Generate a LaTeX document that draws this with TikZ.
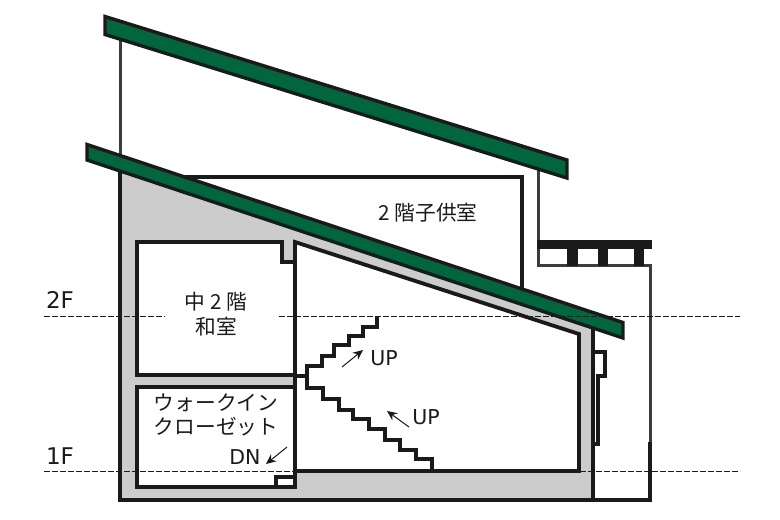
\documentclass[tikz,border=0pt]{standalone}
\usepackage{fontspec}
\setmainfont{DejaVu Sans}
\newfontfamily\jpfont{Noto Sans CJK JP}
\usetikzlibrary{arrows.meta}
\definecolor{roofgreen}{RGB}{0,102,61}
\definecolor{wallgray}{RGB}{204,204,204}
\definecolor{ink}{RGB}{26,26,26}
\tikzset{
  wall/.style={draw=ink,line width=3.8pt,line join=miter},
  thinwall/.style={draw=ink!85!white,line width=3pt},
  roof/.style={draw=ink,fill=roofgreen,line width=3.4pt,line join=miter},
  level/.style={draw=ink,line width=0.7pt,dash pattern=on 6pt off 2pt},
  flow/.style={draw=ink,line width=1pt,-{Stealth[length=10pt,width=9pt]}},
  lat/.style={inner sep=0pt,text=ink,font=\fontsize{20.5}{24}\selectfont},
  big/.style={inner sep=0pt,text=ink,font=\fontsize{23}{27}\selectfont},
  jp/.style={inner sep=0pt,text=ink,align=center,font=\jpfont\fontsize{20.7}{24.5}\selectfont},
}
\begin{document}
\begin{tikzpicture}[x=1pt,y=-1pt]
\useasboundingbox (0,0) rectangle (780,520);
% upper walls
\draw[thinwall] (120,30) -- (120,172);
\draw[thinwall] (538,170) -- (538,265) -- (650,265) -- (650,442);
\draw[wall] (650,442) -- (650,500) -- (593,500);
\draw[wall] (170,177) -- (522,177) -- (522,292);
% balcony
\fill[ink] (536.5,240) rectangle (652,249);
\fill[ink] (567,249) rectangle (578,266);
\fill[ink] (598,249) rectangle (608,266);
\fill[ink] (634,249) rectangle (644,266);
% body
\draw[wall,fill=wallgray] (120,165) -- (593,325) -- (593,500) -- (120,500) -- cycle;
% stair room
\draw[wall,fill=white] (295,242) -- (579,334) -- (579,471) -- (295,471) -- cycle;
% mid room
\draw[wall,fill=white] (137,242) -- (282,242) -- (282,262) -- (295,262) -- (295,375) -- (137,375) -- cycle;
% closet
\draw[wall,fill=white] (137,387) -- (295,387) -- (295,487) -- (137,487) -- cycle;
\draw[wall] (276,487) -- (276,477) -- (295,477);
% stairs
\draw[wall] (377,316) -- (377,327) -- (363,327) -- (363,336) -- (349,336) -- (349,345) -- (334,345) -- (334,356) -- (322,356) -- (322,366) -- (307,366) -- (307,388) -- (323,388) -- (323,399) -- (339,399) -- (339,410) -- (353,410) -- (353,419) -- (369,419) -- (369,429) -- (385,429) -- (385,440) -- (400,440) -- (400,450) -- (416,450) -- (416,459) -- (432,459) -- (432,471);
\draw[wall] (295,376) -- (307,376);
% right bump
\draw[wall] (594,352) -- (605,352) -- (605,376) -- (598,376) -- (598,444) -- (594,444);
% roofs
\draw[roof] (105,16.5) -- (567,160) -- (567,178) -- (105,34.5) -- cycle;
\draw[roof] (87,144.5) -- (623,322.5) -- (623,338) -- (87,160) -- cycle;
% levels
\coordinate (l2a) at (44,316); \coordinate (l2b) at (165,316);
\coordinate (l2c) at (279,316); \coordinate (l2d) at (740,316);
\coordinate (l1a) at (44,471); \coordinate (l1b) at (740,471);
\draw[level] (l2a) -- (l2b);
\draw[level] (l2c) -- (l2d);
\draw[level] (l1a) -- (l1b);
% arrows
\coordinate (a1s) at (342,367); \coordinate (a1e) at (363,350);
\coordinate (a2s) at (409,427); \coordinate (a2e) at (387,411);
\coordinate (a3s) at (287,447); \coordinate (a3e) at (266,464);
\draw[flow] (a1s) -- (a1e);
\draw[flow] (a2s) -- (a2e);
\draw[flow] (a3s) -- (a3e);
% labels
\node[big] (f2) at (60,300) {2F};
\node[big] (f1) at (60,456.5) {1F};
\node[lat] (up1) at (384,358) {UP};
\node[lat] (up2) at (426,417) {UP};
\node[lat] (dn) at (245,457) {DN};
\node[jp] (kids) at (428,213) {2 階子供室};
\node[jp] (mid) at (216,314) {中 2 階\\和室};
\node[jp] (wic) at (216,415) {ウォークイン\\クローゼット};
\end{tikzpicture}
\end{document}
